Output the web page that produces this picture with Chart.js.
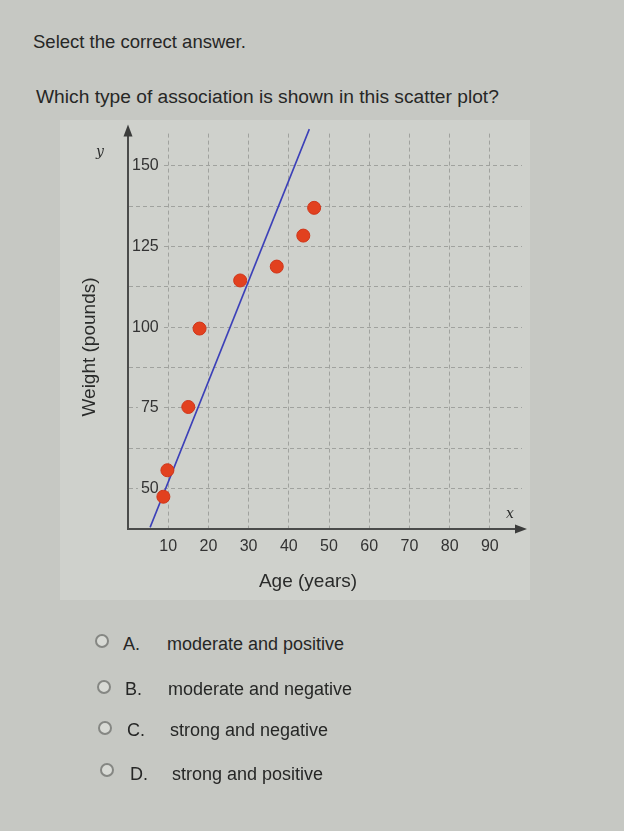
<!DOCTYPE html>
<html>
<head>
<meta charset="utf-8">
<script src="https://cdn.jsdelivr.net/npm/chart.js"></script>
<style>
  html, body { margin: 0; padding: 0; }
  body { width: 624px; height: 831px; background: #c6c8c3; position: relative; overflow: hidden;
         font-family: "Liberation Sans", Arial, sans-serif; color: #262726; }
  .t { position: absolute; white-space: nowrap; font-size: 18px; line-height: 18px; }
  #panel { position: absolute; left: 60px; top: 120px; width: 470px; height: 480px; background: #cfd1cc; }
  #chart { position: absolute; left: 0; top: 0; }
  .radio { position: absolute; width: 10px; height: 10px; border: 2px solid #858783; border-radius: 50%; background: #d8dad5; }
  .ax { position: absolute; white-space: nowrap; font-size: 19px; line-height: 19px; color: #2a2b2a; }
  .var { position: absolute; font-family: "DejaVu Serif", serif; font-style: italic; font-size: 14px; line-height: 14px; color: #2e2f2e; }
</style>
</head>
<body>
<div class="t" style="left:33px; top:33px; font-size:18.5px;">Select the correct answer.</div>
<div class="t" style="left:36px; top:87px; font-size:19.2px; line-height:19px;">Which type of association is shown in this scatter plot?</div>

<div id="panel"><canvas id="chart" width="470" height="480"></canvas></div>

<div class="ax" style="left:88px; top:347px; transform: translate(-50%,-50%) rotate(-90deg);">Weight (pounds)</div>
<div class="ax" style="left:308px; top:580px; transform: translate(-50%,-50%);">Age (years)</div>
<div class="var" style="left:96px; top:144px;">y</div>
<div class="var" style="left:506px; top:506px;">x</div>

<div class="radio" style="left:95px; top:634px;"></div>
<div class="t" style="left:123px; top:635px;">A.</div>
<div class="t" style="left:167px; top:635px;">moderate and positive</div>

<div class="radio" style="left:97px; top:680px;"></div>
<div class="t" style="left:125px; top:680px;">B.</div>
<div class="t" style="left:168px; top:680px;">moderate and negative</div>

<div class="radio" style="left:98px; top:721px;"></div>
<div class="t" style="left:127px; top:721px;">C.</div>
<div class="t" style="left:170px; top:721px;">strong and negative</div>

<div class="radio" style="left:100px; top:763px;"></div>
<div class="t" style="left:130px; top:765px;">D.</div>
<div class="t" style="left:172px; top:765px;">strong and positive</div>

<script>
// ---- data ----
const ageValues    = [8.8, 9.8, 15.0, 17.8, 27.9, 37.0, 43.6, 46.3];
const weightValues = [47.5, 55.7, 75.3, 99.6, 114.5, 118.8, 128.4, 137.0];
const trendAge     = [5.5, 45.1];
const trendWeight  = [38.0, 161.4];
const xTickValues  = [0, 10, 20, 30, 40, 50, 60, 70, 80, 90];
const yTickValues  = [37.5, 50, 62.5, 75, 87.5, 100, 112.5, 125, 137.5, 150];
const yLabelValues = [50, 75, 100, 125, 150];

const panelColor = '#cfd1cc';
const points = ageValues.map((a, i) => ({ x: a, y: weightValues[i] }));
const trend  = trendAge.map((a, i) => ({ x: a, y: trendWeight[i] }));

const arrowPlugin = {
  id: 'axisArrows',
  afterDraw(chart) {
    const { ctx, chartArea: ca } = chart;
    ctx.save();
    ctx.fillStyle = '#3b3c3b';
    ctx.beginPath();
    ctx.moveTo(ca.left, ca.top - 9);
    ctx.lineTo(ca.left - 4.5, ca.top + 3);
    ctx.lineTo(ca.left + 4.5, ca.top + 3);
    ctx.closePath(); ctx.fill();
    ctx.beginPath();
    ctx.moveTo(ca.right + 5, ca.bottom);
    ctx.lineTo(ca.right - 7, ca.bottom - 4.5);
    ctx.lineTo(ca.right - 7, ca.bottom + 4.5);
    ctx.closePath(); ctx.fill();
    ctx.restore();
  }
};

new Chart(document.getElementById('chart'), {
  type: 'scatter',
  data: {
    datasets: [
      { label: 'Weight', data: points, order: 0,
        pointRadius: 6.5, pointHoverRadius: 6.5,
        backgroundColor: '#e2411f', borderColor: '#cf3519', borderWidth: 1 },
      { type: 'line', label: 'Trend', data: trend, order: 1,
        showLine: true, pointRadius: 0, borderColor: '#3c40b8', borderWidth: 1.6,
        fill: false, clip: false }
    ]
  },
  options: {
    responsive: false,
    animation: false,
    devicePixelRatio: 1,
    layout: { padding: { left: 68, right: 8, top: 13, bottom: 43 } },
    plugins: { legend: { display: false }, tooltip: { enabled: false } },
    scales: {
      x: {
        type: 'linear', min: 0, max: 98,
        afterBuildTicks: s => { s.ticks = xTickValues.map(v => ({ value: v })); },
        afterFit: s => { s.height = 28; },
        grid: { color: '#a0a29e', lineWidth: 1, drawTicks: false },
        border: { display: true, color: '#4a4b4a', width: 2, dash: [4, 3] },
        ticks: { padding: 8, color: '#333', font: { family: 'Liberation Sans', size: 16 },
                 callback: v => (v === 0 ? '' : String(v)) }
      },
      y: {
        type: 'linear', min: 37.5, max: 160,
        afterBuildTicks: s => { s.ticks = yTickValues.map(v => ({ value: v })); },
        afterFit: s => { s.width = 0; },
        grid: { color: '#a0a29e', lineWidth: 1, drawTicks: false },
        border: { display: true, color: '#4a4b4a', width: 2, dash: [4, 3] },
        ticks: { mirror: true, crossAlign: 'far', padding: 4, color: '#333',
                 font: { family: 'Liberation Sans', size: 16 },
                 showLabelBackdrop: true,
                 backdropColor: c => (yLabelValues.includes(c.tick && c.tick.value) ? panelColor : 'rgba(0,0,0,0)'),
                 backdropPadding: { left: 3, right: 3, top: 0, bottom: 0 },
                 callback: v => (yLabelValues.includes(v) ? String(v) : '') }
      }
    }
  },
  plugins: [arrowPlugin]
});
</script>
</body>
</html>
